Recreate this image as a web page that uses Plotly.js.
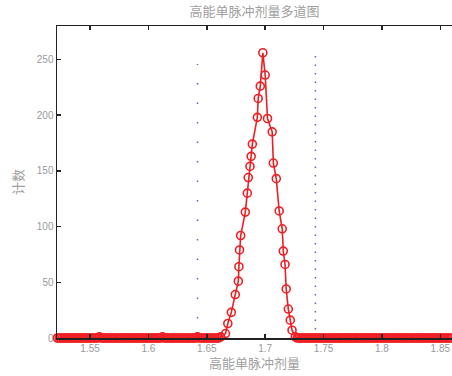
<!DOCTYPE html>
<html>
<head>
<meta charset="utf-8">
<script src="https://cdn.plot.ly/plotly-3.0.1.min.js"></script>
<style>html,body{margin:0;padding:0;background:#fff;}#chart{width:452px;height:376px;}</style>
</head>
<body>
<div id="chart"></div>
<script>
// Left baseline (zero counts) bins
var leftTailX = [1.522,1.5235,1.525,1.5265,1.528,1.5295,1.531,1.5325,1.534,1.5355,
  1.537,1.5385,1.540,1.5415,1.543,1.5445,1.546,1.5475,1.549,1.5505,
  1.552,1.5535,1.555,1.5565,1.558,1.5595,1.561,1.5625,1.564,1.5655,
  1.567,1.5685,1.570,1.5715,1.573,1.5745,1.576,1.5775,1.579,1.5805,
  1.582,1.5835,1.585,1.5865,1.588,1.5895,1.591,1.5925,1.594,1.5955,
  1.597,1.5985,1.600,1.6015,1.603,1.6045,1.606,1.6075,1.609,1.6105,
  1.612,1.6135,1.615,1.6165,1.618,1.6195,1.621,1.6225,1.624,1.6255,
  1.627,1.6285,1.630,1.6315,1.633,1.6345,1.636,1.6375,1.639,1.6405,
  1.642,1.6435,1.645,1.6465,1.648,1.6495,1.651,1.6525,1.654,1.6555,
  1.657,1.6585,1.660];
var leftTailY = [0,0,0,0,0,0,0,0,0,0,
  0,0,0,0,0,0,0,0,0,0,
  0,0,0,0,1,0,0,0,0,0,
  0,0,0,0,0,0,0,0,0,0,
  0,0,0,0,0,0,0,0,0,0,
  0,0,0,0,0,0,0,0,0,0,
  1,0,0,0,0,0,0,0,0,0,
  0,0,0,0,0,0,0,0,0,0,
  1,0,0,0,0,0,0,0,0,0,
  0,0,0];
// Peak region
var peakX = [1.662,1.666,1.668,1.671,1.6744,1.677,1.6775,1.678,1.679,1.683,1.6847,1.6855,1.687,1.688,1.689,1.6933,1.694,1.6958,1.698,1.700,1.702,1.706,1.707,1.7095,1.712,1.7146,1.7155,1.717,1.718,1.7198,1.7215,1.723,1.7258];
var peakY = [1,4,13,23,39,51,64,79,92,113,130,144,154,163,174,198,215,226,256,236,197,185,157,143,114,98,78,66,44,26,16,7,1];
// Right baseline (zero counts) bins
var rightTailX = [1.7275,1.729,1.7305,1.732,1.7335,1.735,1.7365,1.738,1.7395,1.741,
  1.7425,1.744,1.7455,1.747,1.7485,1.750,1.7515,1.753,1.7545,1.756,
  1.7575,1.759,1.7605,1.762,1.7635,1.765,1.7665,1.768,1.7695,1.771,
  1.7725,1.774,1.7755,1.777,1.7785,1.780,1.7815,1.783,1.7845,1.786,
  1.7875,1.789,1.7905,1.792,1.7935,1.795,1.7965,1.798,1.7995,1.801,
  1.8025,1.804,1.8055,1.807,1.8085,1.810,1.8115,1.813,1.8145,1.816,
  1.8175,1.819,1.8205,1.822,1.8235,1.825,1.8265,1.828,1.8295,1.831,
  1.8325,1.834,1.8355,1.837,1.8385,1.840,1.8415,1.843,1.8445,1.846,
  1.8475,1.849,1.8505,1.852,1.8535,1.855,1.8565,1.858,1.8595];
var rightTailY = [0,0,0,0,0,0,0,0,0,0,
  0,0,0,0,0,0,0,0,0,0,
  0,0,0,0,0,0,0,0,0,0,
  0,0,0,0,0,0,0,0,0,0,
  0,0,0,0,0,0,0,0,0,0,
  0,0,0,0,0,0,0,0,0,0,
  0,0,0,0,0,0,0,0,0,0,
  0,0,0,0,0,0,0,0,0,0,
  0,0,0,0,0,0,0,0,0];
// Window markers (vertical dotted lines)
var windowX = [1.642, 1.743];
var windowTop = [246, 254];

var xticks = [1.55,1.6,1.65,1.7,1.75,1.8,1.85];
var xtickText = ['1.55','1.6','1.65','1.7','1.75','1.8','1.85'];
var yticks = [0,50,100,150,200,250];
var ytickText = ['0','50','100','150','200','250'];

var titleText = '高能单脉冲剂量多道图';
var xLabel = '高能单脉冲剂量';
var yLabel = '计数';

var allX = leftTailX.concat(peakX, rightTailX);
var allY = leftTailY.concat(peakY, rightTailY);

var red = '#ee1f24';
var blue = '#5568c0';
var traces = [
  {x:[windowX[0],windowX[0]], y:[0,windowTop[0]], mode:'lines', line:{color:blue,width:1.5,dash:'1.5px,18px'}, hoverinfo:'skip'},
  {x:[windowX[1],windowX[1]], y:[0,windowTop[1]], mode:'lines', line:{color:blue,width:1.5,dash:'1.5px,7px'}, hoverinfo:'skip'},
  {x:allX, y:allY, mode:'lines+markers', cliponaxis:false,
   line:{color:red,width:1.6},
   marker:{symbol:'circle-open',size:8,color:red,line:{color:red,width:1.6}}}
];

var tickFont = {family:'Liberation Sans, Noto Sans CJK SC, sans-serif', size:10, color:'#9a9a9a'};
var layout = {
  width:452, height:376,
  margin:{l:57, r:0, t:26, b:38},
  paper_bgcolor:'#fff', plot_bgcolor:'#fff',
  showlegend:false,
  title:{text:titleText, x:0.5, xref:'paper', y:0.97, yref:'container', yanchor:'middle',
         font:{family:'Noto Sans CJK SC, sans-serif', size:13, color:'#a0a0a0'}},
  xaxis:{range:[1.5217,1.8600], tickvals:xticks, ticktext:xtickText,
         ticks:'inside', ticklen:4, tickwidth:1.5, tickcolor:'#222',
         showline:true, linecolor:'#222', linewidth:1.5, mirror:'ticks',
         showgrid:false, zeroline:false, tickfont:tickFont,
         title:{text:xLabel, standoff:6, font:{family:'Noto Sans CJK SC, sans-serif', size:13, color:'#a0a0a0'}}},
  yaxis:{range:[0,280], tickvals:yticks, ticktext:ytickText,
         ticks:'inside', ticklen:4, tickwidth:1.5, tickcolor:'#222',
         showline:true, linecolor:'#222', linewidth:1.5,
         showgrid:false, zeroline:false, tickfont:tickFont,
         title:{text:yLabel, standoff:10, font:{family:'Noto Sans CJK SC, sans-serif', size:13, color:'#a0a0a0'}}}
};
Plotly.newPlot('chart', traces, layout, {displayModeBar:false, staticPlot:true});
</script>
</body>
</html>
